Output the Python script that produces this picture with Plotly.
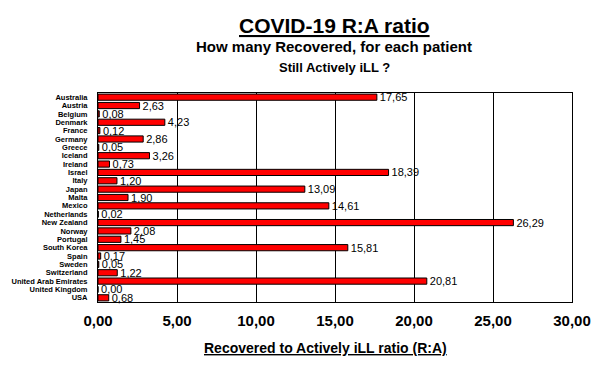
import plotly.graph_objects as go

countries = ["Australia", "Austria", "Belgium", "Denmark", "France", "Germany", "Greece",
             "Iceland", "Ireland", "Israel", "Italy", "Japan", "Malta", "Mexico",
             "Netherlands", "New Zealand", "Norway", "Portugal", "South Korea", "Spain",
             "Sweden", "Switzerland", "United Arab Emirates", "United Kingdom", "USA"]
ratios = [17.65, 2.63, 0.08, 4.23, 0.12, 2.86, 0.05, 3.26, 0.73, 18.39, 1.20, 13.09,
          1.90, 14.61, 0.02, 26.29, 2.08, 1.45, 15.81, 0.17, 0.05, 1.22, 20.81, 0.00, 0.68]
tick_vals = [0, 5, 10, 15, 20, 25, 30]

labels = [f"{v:.2f}".replace(".", ",") for v in ratios]

# page body has an 8px margin, so the figure is drawn 8px in from the window edge
OFF = 8
L, R, T, B = 98 - OFF, 31, 93 - OFF, 70
W, H = 603 - OFF, 372 - OFF
ph = H - T - B
plot_bottom_screen = 302

def py(p):
    return (plot_bottom_screen - p) / ph

fig = go.Figure(go.Bar(
    x=ratios, y=countries, orientation="h",
    marker=dict(color="#FF0000", line=dict(color="black", width=1)),
    width=0.74,
    text=labels, textposition="outside", cliponaxis=False, constraintext="none",
    textfont=dict(family="Arial, Liberation Sans", size=11, color="black"),
))

fig.update_layout(
    width=W, height=H,
    margin=dict(l=L, r=R, t=T, b=B),
    plot_bgcolor="white", paper_bgcolor="white",
    separators=",.",
    showlegend=False,
    font=dict(family="Arial, Liberation Sans", color="black"),
    xaxis=dict(range=[0, 30], tickvals=tick_vals, tickformat=".2f",
               showgrid=True, gridcolor="black", gridwidth=1,
               showline=True, linecolor="black", linewidth=1, mirror=True,
               zeroline=False, ticks="", automargin=False, ticklabelstandoff=5,
               tickfont=dict(size=15, family="Arial, Liberation Sans", weight="bold")),
    yaxis=dict(autorange="reversed", showline=True, linecolor="black", linewidth=1,
               mirror=True, ticks="", showgrid=False, ticklabelstandoff=8,
               tickmode="array", tickvals=countries, automargin=False,
               tickfont=dict(size=7.5, family="Arial, Liberation Sans", weight="bold")),
    annotations=[
        dict(text="COVID-19 R:A ratio", xref="paper", yref="paper", x=0.498, y=py(25),
             showarrow=False, xanchor="center", yanchor="middle",
             font=dict(size=21, weight="bold", lineposition="under")),
        dict(text="How many Recovered, for each patient", xref="paper", yref="paper",
             x=0.498, y=py(46), showarrow=False, xanchor="center", yanchor="middle",
             font=dict(size=15, weight="bold")),
        dict(text="Still Actively iLL ?", xref="paper", yref="paper",
             x=0.498, y=py(68), showarrow=False, xanchor="center", yanchor="middle",
             font=dict(size=13, weight="bold")),
        dict(text="Recovered to Actively iLL ratio (R:A)", xref="paper", yref="paper",
             x=0.48, y=py(348), showarrow=False, xanchor="center", yanchor="middle",
             font=dict(size=14, weight="bold", lineposition="under")),
    ],
)

fig.write_html("out.html")
